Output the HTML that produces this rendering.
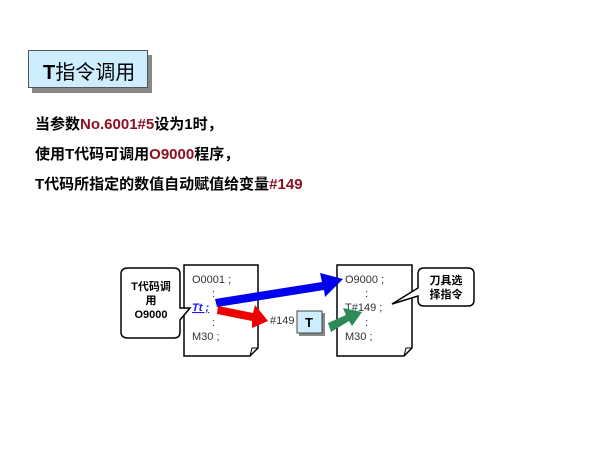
<!DOCTYPE html><html><head><meta charset="utf-8"><style>
body{margin:0;width:600px;height:450px;background:#fff;position:relative;overflow:hidden;font-family:"Liberation Sans","Noto Sans CJK SC",sans-serif}
.t{position:absolute;white-space:nowrap}
.r{color:#8b1020}
</style></head><body>
<div style="position:absolute;left:32px;top:55px;width:120px;height:38px;background:#888"></div>
<div style="position:absolute;left:28px;top:50px;width:118px;height:36px;background:#cdeeff;border:1px solid #555"></div>
<div class="t" style="left:43px;top:56px;font-size:20px;"><b>T</b>指令调用</div>
<div class="t" style="left:35px;top:110px;font-size:15px;font-weight:bold;line-height:30px">当参数<span class="r">No.6001#5</span>设为1时，<br>使用T代码可调用<span class="r">O9000</span>程序，<br>T代码所指定的数值自动赋值给变量<span class="r">#149</span></div>
<svg width="600" height="450" style="position:absolute;left:0;top:0" font-family="Liberation Sans,Noto Sans CJK SC,sans-serif">
<path d="M184,265 H258 V348 L250,356 H184 Z" fill="#fff" stroke="#000" stroke-width="1.5"/>
<path d="M250,356 L252,348 H258" fill="none" stroke="#000"/>
<path d="M337,265 H412 V348 L404,356 H337 Z" fill="#fff" stroke="#000" stroke-width="1.5"/>
<path d="M404,356 L406,348 H412" fill="none" stroke="#000"/>
<path d="M128,268 H174 Q180,268 180,274 V308 L190,308 L180,320 V332 Q180,338 174,338 H128 Q121,338 121,332 V274 Q121,268 128,268 Z" fill="#fff" stroke="#000" stroke-width="1.5"/>
<path d="M424,268 H468 Q474,268 474,274 V300 Q474,306 468,306 H424 Q418,306 418,300 V296 L392,304 L418,288 V274 Q418,268 424,268 Z" fill="#fff" stroke="#000" stroke-width="1.5"/>
<g font-size="11" fill="#333">
<text x="192" y="283">O0001 ;</text><text x="212" y="297">:</text><text x="212" y="326">:</text><text x="192" y="340">M30 ;</text>
<text x="345" y="283">O9000 ;</text><text x="365" y="297">:</text><text x="345" y="311">T#149 ;</text><text x="365" y="326">:</text><text x="345" y="340">M30 ;</text>
<text x="270" y="324">#149</text>
</g>
<text x="192" y="311" font-size="11" fill="#1a1aff" font-weight="bold" font-style="italic" text-decoration="underline">Tt ;</text>
<g font-size="11" font-weight="bold" text-anchor="middle"><text x="151" y="290">T代码调</text><text x="151" y="304">用</text><text x="151" y="318">O9000</text>
<text x="446" y="284">刀具选</text><text x="446" y="298">择指令</text></g>
<polygon points="215,299 322,282 320,273 343,279 325,297 324,290 217,307" fill="#0000ee"/>
<polygon points="218,306 253,313 255,305 268,321 252,328 252,321 217,314" fill="#ee0000"/>
<polygon points="328,323 346,315 343,308 362,312 352,326 349,321 331,332" fill="#2e8b57"/>
<rect x="299" y="313" width="26" height="23" fill="#888"/>
<rect x="297" y="311" width="25" height="22" fill="#cdeeff" stroke="#444"/>
<text x="309" y="327" font-size="13" font-weight="bold" text-anchor="middle">T</text>
</svg>
</body></html>
